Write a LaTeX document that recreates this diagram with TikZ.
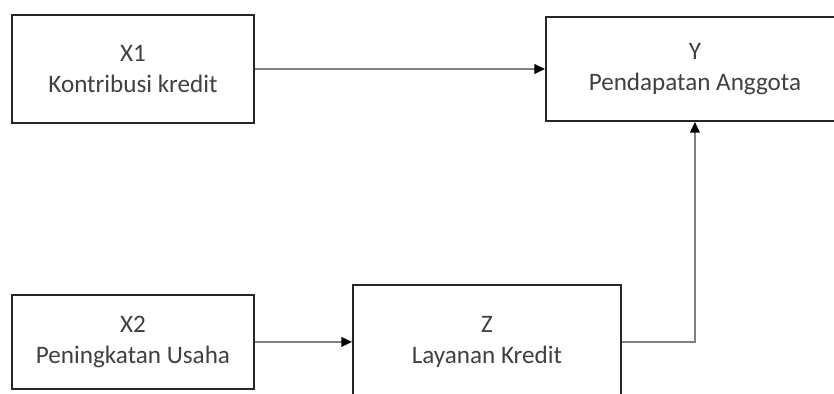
\documentclass[tikz,border=0pt]{standalone}
\usepackage{fontspec}
\setmainfont{Carlito}
\usetikzlibrary{positioning, arrows.meta}

\begin{document}
\begin{tikzpicture}[
  font=\fontsize{14.3}{17.6}\selectfont,
  box/.style={draw=black!85, line width=1.1pt, align=center, text=black!75, inner sep=0pt},
  arr/.style={-{Triangle[length=6pt, width=5.5pt, color=black]}, draw=black!50, line width=0.85pt},
]
  \useasboundingbox (0,0) rectangle (16.68,7.88);
  \clip (0,0) rectangle (16.68,7.88);
  \node[box, minimum width=4.84cm, minimum height=2.16cm] (x1) at (2.66,6.50) {X1\\Kontribusi kredit};
  \node[box, minimum width=5.96cm, minimum height=2.08cm, right=5.8cm of x1] (y) {Y\\Pendapatan Anggota};
  \node[box, minimum width=4.84cm, minimum height=1.88cm, below=3.4cm of x1] (x2) {X2\\Peningkatan Usaha};
  \node[box, minimum width=5.36cm, minimum height=2.28cm, right=1.94cm of x2] (z) {Z\\Layanan Kredit};
  \draw[arr] (x1) -- (x1 -| y.west);
  \draw[arr] (x2) -- (x2 -| z.west);
  \draw[arr] (z) -| (y);
\end{tikzpicture}
\end{document}
